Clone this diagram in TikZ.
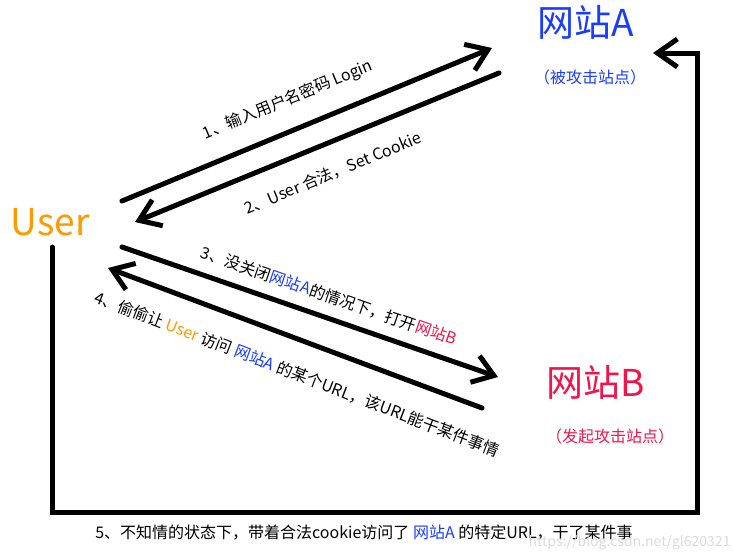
\documentclass[tikz,border=0pt]{standalone}
\usepackage{fontspec}
\setmainfont{Noto Sans CJK SC}
\usepackage{xcolor}
\usetikzlibrary{arrows.meta}

\definecolor{siteblue}{RGB}{25,60,255}
\definecolor{sitered}{RGB}{240,20,75}
\definecolor{userorange}{RGB}{255,153,0}
\definecolor{markgray}{RGB}{218,218,218}

\begin{document}
\begin{tikzpicture}[x=1pt, y=-1pt, line width=5pt, line cap=round, line join=round,
  barb/.style={-{Straight Barb[length=20pt,width=28pt]}},
  big/.style={font=\fontsize{37}{40}\selectfont, inner sep=0pt},
  note/.style={font=\fontsize{16}{18}\selectfont, inner sep=0pt}]

\useasboundingbox (0,0) rectangle (733,555);

\node[big, text=userorange] (user) at (50,222) {User};
\node[big, text=siteblue] (siteA) at (586,22) {网站A};
\node[note, text=siteblue] (siteAsub) at (590,77) {（被攻击站点）};
\node[big, text=sitered] (siteB) at (596,382) {网站B};
\node[note, text=sitered] (siteBsub) at (610,436) {（发起攻击站点）};

\coordinate (a1) at (122,201);
\coordinate (b1) at (492,48);
\coordinate (b2) at (499,73);
\coordinate (a2) at (135,222);
\coordinate (a3) at (122,247);
\coordinate (b3) at (498,377);
\coordinate (b4) at (482,408);
\coordinate (a4) at (108,268);

\coordinate (c1) at (52,247);
\coordinate (c2) at (52,512);
\coordinate (c3) at (697,512);
\coordinate (c4) at (697,53);
\coordinate (c5) at (653,53);

\path
(a1) edge [barb] (b1)
(b2) edge [barb] (a2)
(a3) edge [barb] (b3)
(b4) edge [barb] (a4);

\draw[barb, line join=miter] (c1) -- (c2) -- (c3) -- (c4) -- (c5);

\node[note, rotate=22.5] (step1) at (288,100) {1、输入用户名密码 Login};
\node[note, rotate=22.4] (step2) at (333,173) {2、User 合法，Set Cookie};
\node[note, rotate=-19] (step3) at (329,296) {3、没关闭{\color{siteblue}网站A}的情况下，打开{\color{sitered}网站B}};
\node[note, rotate=-21] (step4) at (297,374) {4、偷偷让 {\color{userorange}User} 访问 {\color{siteblue}网站A} 的某个URL，该URL能干某件事情};
\node[note] (step5) at (364,533) {5、不知情的状态下，带着合法cookie访问了 {\color{siteblue}网站A} 的特定URL，干了某件事};

\node[anchor=east, inner sep=0pt, font=\fontsize{14}{16}\selectfont, text=markgray] (mark) at (733,543) {https://blog.csdn.net/gl620321};

\end{tikzpicture}
\end{document}
